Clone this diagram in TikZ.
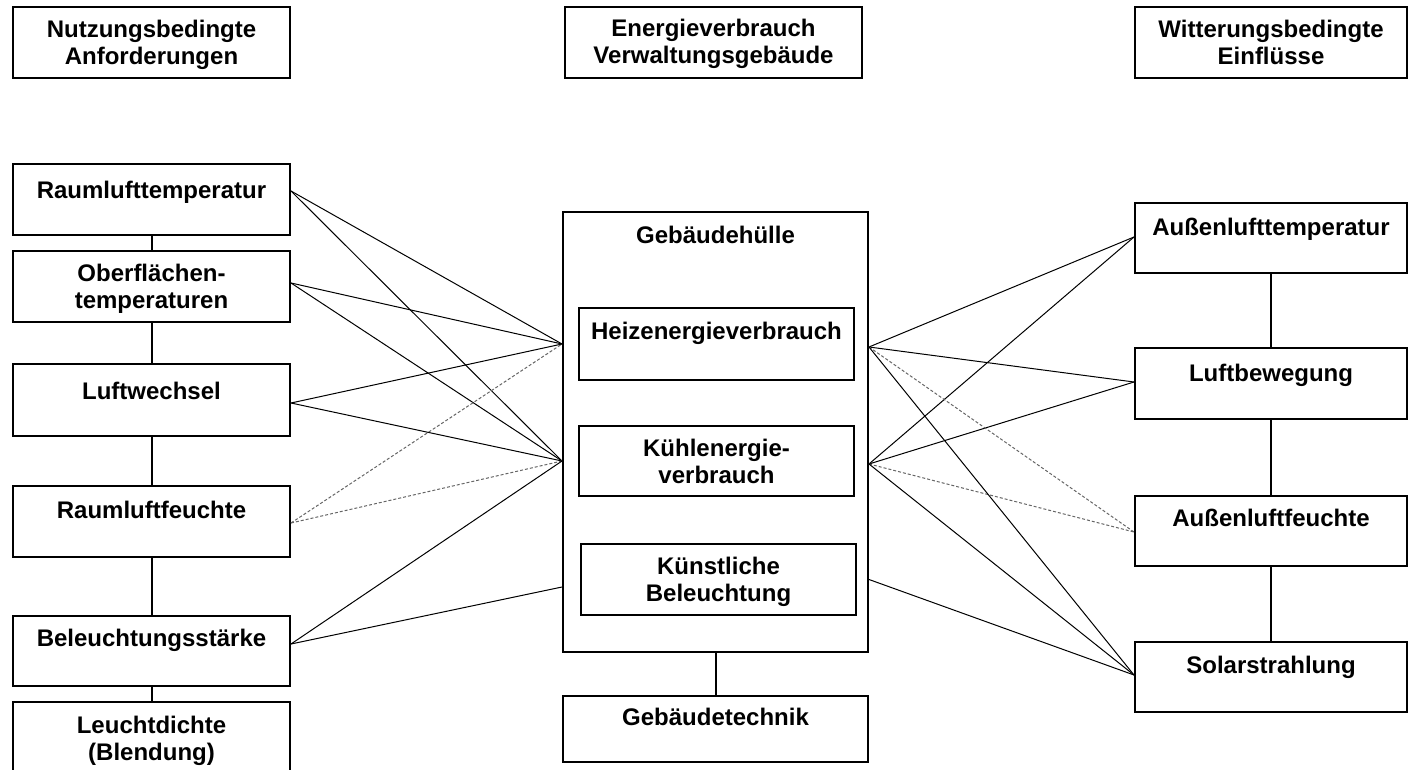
\documentclass[tikz,border=0pt]{standalone}
\usepackage{fontspec}
\setmainfont{Liberation Sans}
\usetikzlibrary{calc,fit}
\begin{document}
\begin{tikzpicture}[x=0.5pt,y=-0.5pt,
  box/.style={draw, line width=1pt, rectangle, inner sep=0pt},
  txt/.style={font=\bfseries\fontsize{12}{13.5}\selectfont, align=center, inner sep=0pt, anchor=north},
  link/.style={line width=1pt},
  rel/.style={line width=0.5pt},
  relw/.style={line width=0.5pt, black!60, dash pattern=on 1.5pt off 1pt}]
\useasboundingbox (0,0) rectangle (1409,770);
% top row
\node[box, fit={(13,7) (290,78)}] (nb) {};
\node[txt] (nbt) at ($(nb.north)+(0,13.5)$) {Nutzungsbedingte\\Anforderungen};
\node[box, fit={(565,7) (862,78)}] (ev) {};
\node[txt] (evt) at ($(ev.north)+(0,13)$) {Energieverbrauch\\Verwaltungsgebäude};
\node[box, fit={(1135,7) (1407,78)}] (wb) {};
\node[txt] (wbt) at ($(wb.north)+(0,13.5)$) {Witterungsbedingte\\Einflüsse};
% left column
\node[box, fit={(13,164) (290,235)}] (r1) {};
\node[txt] (r1t) at ($(r1.north)+(0,17.5)$) {Raumlufttemperatur};
\node[box, fit={(13,251) (290,322)}] (r2) {};
\node[txt] (r2t) at ($(r2.north)+(0,13.5)$) {Oberflächen-\\temperaturen};
\node[box, fit={(13,364) (290,436)}] (r3) {};
\node[txt] (r3t) at ($(r3.north)+(0,18.5)$) {Luftwechsel};
\node[box, fit={(13,486) (290,557)}] (r4) {};
\node[txt] (r4t) at ($(r4.north)+(0,15.5)$) {Raumluftfeuchte};
\node[box, fit={(13,616) (290,686)}] (r5) {};
\node[txt] (r5t) at ($(r5.north)+(0,13.5)$) {Beleuchtungsstärke};
\node[box, fit={(13,702) (290,790)}] (r6) {};
\node[txt] (r6t) at ($(r6.north)+(0,14.5)$) {Leuchtdichte\\(Blendung)};
\draw[link] (r1.south) -- (r2.north);
\draw[link] (r2.south) -- (r3.north);
\draw[link] (r3.south) -- (r4.north);
\draw[link] (r4.south) -- (r5.north);
\draw[link] (r5.south) -- (r6.north);
% middle column
\node[box, fit={(563,212) (868,652)}] (hull) {};
\node[txt] (hullt) at ($(hull.north)+(0,14.5)$) {Gebäudehülle};
\node[box, fit={(579,308) (854,380)}] (heiz) {};
\node[txt] (heizt) at ($(heiz.north)+(0,14.5)$) {Heizenergieverbrauch};
\node[box, fit={(579,426) (854,496)}] (kuehl) {};
\node[txt] (kuehlt) at ($(kuehl.north)+(0,13.5)$) {Kühlenergie-\\verbrauch};
\node[box, fit={(581,544) (856,615)}] (kb) {};
\node[txt] (kbt) at ($(kb.north)+(0,13.5)$) {Künstliche\\Beleuchtung};
\node[box, fit={(563,696) (868,762)}] (gt) {};
\node[txt] (gtt) at ($(gt.north)+(0,12.5)$) {Gebäudetechnik};
\draw[link] (hull.south) -- (gt.north);
% right column
\node[box, fit={(1135,203) (1407,273)}] (a1) {};
\node[txt] (a1t) at ($(a1.north)+(0,15.5)$) {Außenlufttemperatur};
\node[box, fit={(1135,348) (1407,419)}] (a2) {};
\node[txt] (a2t) at ($(a2.north)+(0,16.5)$) {Luftbewegung};
\node[box, fit={(1135,496) (1407,566)}] (a3) {};
\node[txt] (a3t) at ($(a3.north)+(0,13.5)$) {Außenluftfeuchte};
\node[box, fit={(1135,642) (1407,712)}] (a4) {};
\node[txt] (a4t) at ($(a4.north)+(0,14.5)$) {Solarstrahlung};
\draw[link] (a1.south) -- (a2.north);
\draw[link] (a2.south) -- (a3.north);
\draw[link] (a3.south) -- (a4.north);
% connection points
\coordinate (r1e) at ($(r1.east)+(0,-8.5)$);
\coordinate (r2e) at ($(r2.east)+(0,-3.5)$);
\coordinate (r3e) at ($(r3.east)+(0,3)$);
\coordinate (r4e) at ($(r4.east)+(0,1.5)$);
\coordinate (r5e) at ($(r5.east)+(0,-7)$);
\coordinate (hHl) at (hull.west |- heiz.center);
\coordinate (hKl) at (hull.west |- kuehl.center);
\coordinate (hBl) at ($(hull.west |- kb.center)+(0,7.5)$);
\coordinate (hHr) at ($(hull.east |- heiz.center)+(0,3)$);
\coordinate (hKr) at ($(hull.east |- kuehl.center)+(0,3)$);
\coordinate (hBr) at (hull.east |- kb.center);
\coordinate (a1w) at ($(a1.west)+(0,-1)$);
\coordinate (a2w) at ($(a2.west)+(0,-1.5)$);
\coordinate (a3w) at ($(a3.west)+(0,1)$);
\coordinate (a4w) at ($(a4.west)+(0,-2)$);
% left relations
\draw[rel] (r1e) -- (hHl);
\draw[rel] (r1e) -- (hKl);
\draw[rel] (r2e) -- (hHl);
\draw[rel] (r2e) -- (hKl);
\draw[rel] (r3e) -- (hHl);
\draw[rel] (r3e) -- (hKl);
\draw[relw] (r4e) -- (hHl);
\draw[relw] (r4e) -- (hKl);
\draw[rel] (r5e) -- (hKl);
\draw[rel] (r5e) -- (hBl);
% right relations
\draw[rel] (hHr) -- (a1w);
\draw[rel] (hKr) -- (a1w);
\draw[rel] (hHr) -- (a2w);
\draw[rel] (hKr) -- (a2w);
\draw[relw] (hHr) -- (a3w);
\draw[relw] (hKr) -- (a3w);
\draw[rel] (hHr) -- (a4w);
\draw[rel] (hKr) -- (a4w);
\draw[rel] (hBr) -- (a4w);
\end{tikzpicture}
\end{document}
